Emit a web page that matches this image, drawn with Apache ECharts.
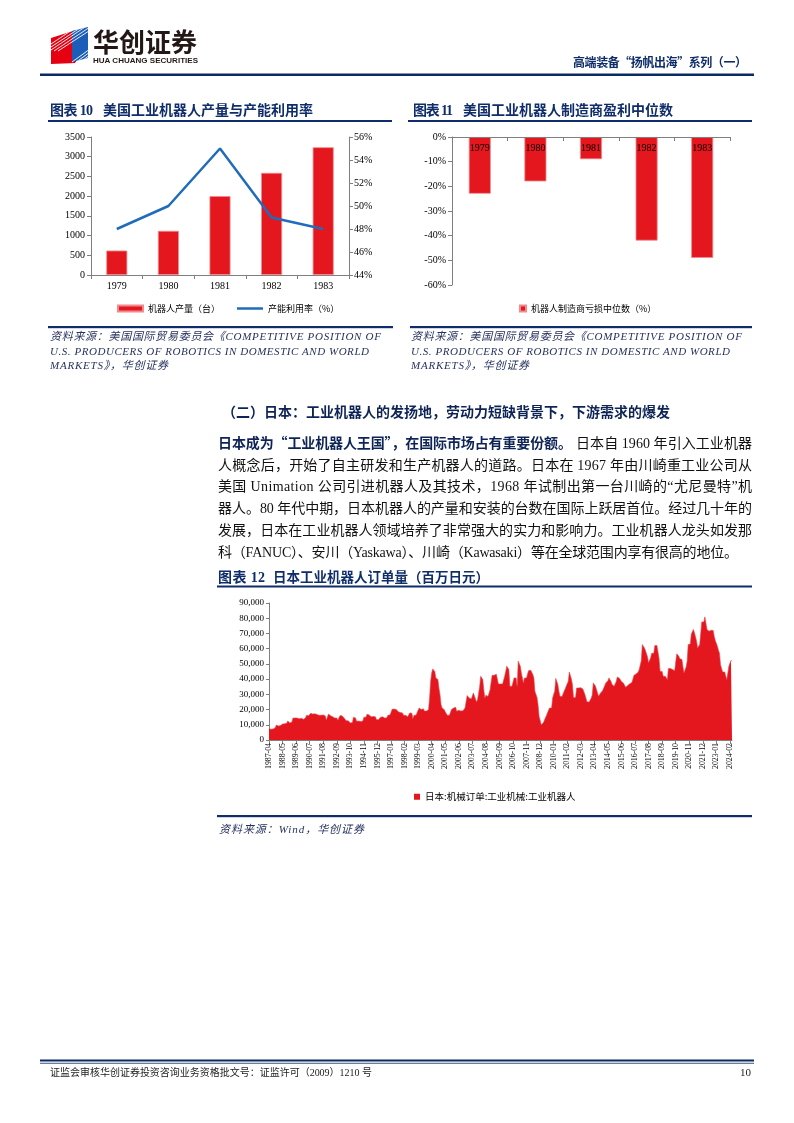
<!DOCTYPE html>
<html>
<head>
<meta charset="utf-8">
<script src="https://cdn.jsdelivr.net/npm/echarts@6/dist/echarts.min.js"></script>
<style>
html,body{margin:0;padding:0;background:#fff;}
#page{position:relative;width:794px;height:1123px;overflow:hidden;background:#fff;}
#chart{position:absolute;left:0;top:0;width:794px;height:1123px;}
#overlay{position:absolute;left:0;top:0;pointer-events:none;}
#overlay text{white-space:pre;}
</style>
</head>
<body>
<div id="page">
<div id="chart"></div>
<svg id="overlay" width="794" height="1123" xmlns="http://www.w3.org/2000/svg">
  <defs>
    <clipPath id="logoClip">
      <polygon points="51,38 76,30 76,63 51,64"/>
      <polygon points="72,31 88,27 88,58 72,62"/>
    </clipPath>
  </defs>
  <!-- logo -->
  <polygon points="51,38 76,30 76,63 51,64" fill="#E50012"/>
  <polygon points="72,31 88,27 88,58 72,62" fill="#1C5DB8"/>
  <g clip-path="url(#logoClip)" stroke="#fff" stroke-width="0.9">
    <line x1="51" y1="44" x2="75" y2="28"/>
    <line x1="51" y1="47" x2="80" y2="28"/>
    <line x1="51" y1="50" x2="85" y2="27"/>
    <line x1="54" y1="51" x2="90" y2="27"/>
    <line x1="58" y1="51" x2="92" y2="29"/>
    <line x1="72" y1="62" x2="90" y2="49"/>
    <line x1="75" y1="63" x2="90" y2="52"/>
    <line x1="79" y1="63" x2="90" y2="55"/>
    <line x1="83" y1="63" x2="90" y2="58"/>
  </g>
  <text x="93" y="52" font-size="26" font-weight="bold" fill="#231815" textLength="104" lengthAdjust="spacingAndGlyphs" font-family="Noto Sans CJK SC">华创证券</text>
  <text x="93" y="63" font-size="7.5" font-weight="bold" fill="#231815" textLength="105" lengthAdjust="spacingAndGlyphs" font-family="Liberation Sans">HUA CHUANG SECURITIES</text>
  <text x="573" y="67" font-size="12" font-weight="bold" fill="#0f2d6b" textLength="174" font-family="Noto Sans CJK SC">高端装备“扬帆出海”系列（一）</text>
  <rect x="40" y="73.5" width="714" height="2.5" fill="#0b2a62"/>

  <!-- chart 10 title -->
  <text x="50" y="115" font-size="14" font-weight="bold" fill="#0f2d6b" textLength="43" font-family="'Liberation Serif','Noto Sans CJK SC'">图表 10</text>
  <text x="103" y="115" font-size="14" font-weight="bold" fill="#0f2d6b" textLength="210" font-family="Noto Sans CJK SC">美国工业机器人产量与产能利用率</text>
  <rect x="48" y="120" width="344" height="2" fill="#0f2d6b"/>
  <!-- chart 11 title -->
  <text x="413" y="115" font-size="14" font-weight="bold" fill="#0f2d6b" textLength="40" font-family="'Liberation Serif','Noto Sans CJK SC'">图表 11</text>
  <text x="463" y="115" font-size="14" font-weight="bold" fill="#0f2d6b" textLength="210" font-family="Noto Sans CJK SC">美国工业机器人制造商盈利中位数</text>
  <rect x="408" y="120" width="344" height="2" fill="#0f2d6b"/>

  <!-- sources 10/11 -->
  <rect x="48" y="326" width="345" height="2.2" fill="#0f2d6b"/>
  <rect x="410" y="326" width="342" height="2.2" fill="#0f2d6b"/>
  <g font-size="11" font-style="italic" fill="#27335f" font-family="'Liberation Serif','Noto Sans CJK SC'">
    <text x="50" y="340" textLength="331">资料来源：美国国际贸易委员会《COMPETITIVE POSITION OF</text>
    <text x="50" y="354.5" textLength="319">U.S. PRODUCERS OF ROBOTICS IN DOMESTIC AND WORLD</text>
    <text x="50" y="369" textLength="118">MARKETS》，华创证券</text>
    <text x="411" y="340" textLength="331">资料来源：美国国际贸易委员会《COMPETITIVE POSITION OF</text>
    <text x="411" y="354.5" textLength="319">U.S. PRODUCERS OF ROBOTICS IN DOMESTIC AND WORLD</text>
    <text x="411" y="369" textLength="118">MARKETS》，华创证券</text>
  </g>

  <!-- section heading and paragraph -->
  <text x="222" y="417" font-size="14" font-weight="bold" fill="#0e2456" textLength="448" font-family="Noto Sans CJK SC">（二）日本：工业机器人的发扬地，劳动力短缺背景下，下游需求的爆发</text>
  <g font-size="14" fill="#111" font-family="'Liberation Serif','Noto Sans CJK SC'">
    <text x="218" y="448" font-weight="bold" fill="#0e2456" textLength="354" font-family="Noto Sans CJK SC">日本成为“工业机器人王国”，在国际市场占有重要份额。</text>
    <text x="576" y="448" textLength="176">日本自 1960 年引入工业机器</text>
    <text x="218" y="469.7" textLength="534">人概念后，开始了自主研发和生产机器人的道路。日本在 1967 年由川崎重工业公司从</text>
    <text x="218" y="491.4" textLength="534">美国 Unimation 公司引进机器人及其技术，1968 年试制出第一台川崎的“尤尼曼特”机</text>
    <text x="218" y="513.1" textLength="534">器人。80 年代中期，日本机器人的产量和安装的台数在国际上跃居首位。经过几十年的</text>
    <text x="218" y="534.8" textLength="534">发展，日本在工业机器人领域培养了非常强大的实力和影响力。工业机器人龙头如发那</text>
    <text x="218" y="556.5" textLength="520">科（FANUC）、安川（Yaskawa）、川崎（Kawasaki）等在全球范围内享有很高的地位。</text>
  </g>

  <!-- chart 12 title -->
  <text x="218" y="582" font-size="14" font-weight="bold" fill="#0f2d6b" textLength="47" font-family="'Liberation Serif','Noto Sans CJK SC'">图表 12</text>
  <text x="273" y="582" font-size="13.5" font-weight="bold" fill="#0f2d6b" textLength="216" font-family="Noto Sans CJK SC">日本工业机器人订单量（百万日元）</text>
  <rect x="217" y="585.5" width="535" height="2" fill="#0f2d6b"/>

  <!-- chart 12 source -->
  <rect x="217" y="815" width="535" height="2.2" fill="#0f2d6b"/>
  <text x="219" y="833" font-size="11" font-style="italic" fill="#27335f" textLength="145" font-family="'Liberation Serif','Noto Sans CJK SC'">资料来源：Wind，华创证券</text>

  <!-- footer -->
  <rect x="40" y="1059.5" width="714" height="2" fill="#0b2a62"/>
  <rect x="40" y="1062.8" width="714" height="0.8" fill="#0b2a62"/>
  <text x="50" y="1076" font-size="10" fill="#222" textLength="322" font-family="'Liberation Serif','Noto Sans CJK SC'">证监会审核华创证券投资咨询业务资格批文号：证监许可（2009）1210 号</text>
  <text x="740" y="1076" font-size="11" fill="#222" font-family="Liberation Serif">10</text>
</svg>
</div>
<script>
// ---------- data ----------
const usYears = ['1979', '1980', '1981', '1982', '1983'];
const usRobotOutput = [620, 1120, 2000, 2590, 3240];          // 机器人产量（台）
const usCapacityUtil = [48, 50, 55, 49, 48];                  // 产能利用率（%）
const usProfitMedian = [-23, -18, -9, -42, -49];              // 机器人制造商亏损中位数（%）

const jpStartYear = 1987;
const jpStartMonth = 4;
// 日本:机械订单:工业机械:工业机器人（百万日元），monthly from 1987-04
const jpOrders = [
  // 1987 (Apr-Dec)
  7500, 7200, 7100, 7200, 7300, 7500, 8000, 9800, 9600,
  // 1988
  9200, 9000, 9500, 10700, 10500, 10800, 10700, 10600, 11000, 12500, 11800, 11200,
  // 1989
  11300, 11900, 14400, 14000, 14500, 14300, 14400, 13200, 14000, 14400, 14300, 13800,
  // 1990
  13600, 13900, 14500, 16200, 16500, 16000, 17300, 17500, 17200, 17000, 17300, 17200,
  // 1991
  17000, 16800, 17700, 16200, 16000, 16300, 16700, 16500, 16800, 15800, 13000, 13200,
  // 1992
  17000, 16800, 16000, 15100, 15300, 14800, 14400, 14200, 14500, 12900, 13500, 16000,
  // 1993
  15800, 16000, 14900, 14400, 14600, 12700, 12900, 12600, 12500, 11200, 11000, 11500,
  // 1994
  15000, 15200, 14500, 12300, 12100, 12400, 12300, 12200, 12300, 12400, 15000, 15300,
  // 1995
  15000, 16900, 17000, 16500, 16900, 15300, 15000, 15500, 15800, 15300, 13400, 13600,
  // 1996
  13300, 12700, 15000, 14800, 15200, 15000, 14400, 14300, 14600, 16200, 16000, 16500,
  // 1997
  18000, 20200, 20000, 20300, 19800, 20100, 18900, 18600, 17800, 18000, 17500, 17800,
  // 1998
  16200, 16500, 16200, 15100, 15300, 15000, 17800, 18000, 17600, 14000, 16200, 16000,
  // 1999
  16300, 16200, 19500, 21000, 20500, 20000, 21000, 20500, 19000, 18900, 19000, 18800,
  // 2000
  19950, 28000, 38600, 44000, 46700, 46500, 45000, 40800, 40500, 39700, 34000, 29800,
  // 2001
  23250, 21000, 20000, 20000, 18500, 17760, 16200, 16000, 16300, 16200, 20000, 20500,
  // 2002
  21000, 21700, 21500, 18900, 19300, 19500, 18900, 19000, 18900, 19200, 20000, 21000,
  // 2003
  22100, 29200, 29000, 27600, 27600, 27000, 27200, 30900, 30500, 27000, 25000, 26500,
  // 2004
  27600, 35000, 41900, 41500, 39700, 33000, 27600, 29400, 29000, 28500, 27600, 33000,
  // 2005
  38000, 42500, 42300, 42500, 43400, 43200, 40000, 36800, 37000, 36800, 36900, 36800,
  // 2006
  37500, 41900, 45000, 48500, 48300, 46300, 35300, 35500, 35300, 38000, 40800, 40500,
  // 2007
  40800, 35300, 51800, 51500, 48500, 44000, 40800, 37500, 40800, 41000, 40800, 43500,
  // 2008
  45600, 45500, 45800, 45600, 43000, 40800, 32000, 31800, 28000, 23250, 15570, 13000,
  // 2009
  10100, 10100, 11200, 12800, 14500, 16000, 17800, 19500, 21000, 21200, 21000, 27600,
  // 2010
  30000, 32000, 40400, 40000, 36400, 32000, 28700, 28800, 28500, 28300, 32000, 33500,
  // 2011
  35300, 37000, 38600, 44700, 44500, 40000, 36400, 28000, 28200, 28000, 34200, 34500,
  // 2012
  34200, 34600, 34400, 34200, 33500, 33000, 29800, 29500, 25000, 25500, 25000, 25300,
  // 2013
  27500, 29800, 37500, 37300, 35500, 34200, 31000, 28700, 29500, 30900, 31000, 32500,
  // 2014
  34200, 35500, 37500, 37300, 39000, 40800, 40600, 38500, 36400, 35500, 35300, 37000,
  // 2015
  38400, 41400, 41200, 40500, 39700, 38500, 37500, 37300, 36000, 34600, 34800, 35800,
  // 2016
  36400, 37000, 37500, 37800, 40000, 42500, 42300, 43400, 43200, 44500, 46300, 46000,
  // 2017
  52000, 62700, 62500, 60500, 58800, 58500, 54500, 50700, 50500, 54000, 57000, 57200,
  // 2018
  57000, 62000, 62300, 62000, 58000, 53900, 45200, 45500, 45000, 41900, 42000, 41800,
  // 2019
  40500, 39700, 47000, 47300, 47000, 46500, 46300, 46000, 45500, 44700, 56600, 56400,
  // 2020
  55000, 53300, 53000, 52900, 48000, 44100, 44000, 48000, 51800, 62700, 62500, 63000,
  // 2021
  69700, 69500, 72600, 70500, 69300, 65000, 60500, 60300, 62700, 70000, 77600, 77800,
  // 2022
  77600, 80900, 80700, 72600, 72000, 71500, 71300, 72100, 72300, 72000, 68000, 65300,
  // 2023
  65500, 61600, 59000, 57000, 49500, 47000, 44700, 44500, 44700, 42000, 39700, 44000,
  // 2024 (Jan-Apr)
  48500, 48700, 52200, 52000
];
const jpDates = jpOrders.map(function (_, k) {
  const m = jpStartMonth - 1 + k;
  const y = jpStartYear + Math.floor(m / 12);
  const mm = (m % 12) + 1;
  return y + '-' + (mm < 10 ? '0' + mm : '' + mm);
});

// ---------- styles ----------
const FF = '"Liberation Serif","Noto Sans CJK SC",serif';
const CJK = '"Noto Sans CJK SC","Liberation Serif",sans-serif';
const RED = '#E4161E';
const BLUE = '#1F6CBB';
const GRAY = '#7f7f7f';
const lbl = function (size, extra) {
  return Object.assign({ fontSize: size, color: '#000', fontFamily: FF }, extra || {});
};
const axLine = { show: true, onZero: false, lineStyle: { color: GRAY, width: 1 } };
const axTick = function (len, extra) {
  return Object.assign({ show: true, length: len, lineStyle: { color: GRAY, width: 1 } }, extra || {});
};
const plain = function (v) { return String(v); };

const chart = echarts.init(document.getElementById('chart'), null, { renderer: 'canvas' });
chart.setOption({
  animation: false,
  backgroundColor: 'transparent',
  grid: [
    { left: 91, top: 137, width: 258, height: 138 },
    { left: 452, top: 137, width: 278, height: 148 },
    { left: 269, top: 603, width: 463, height: 137 }
  ],
  legend: [
    {
      left: 112, top: 299, itemWidth: 25, itemHeight: 6,
      data: [{ name: '机器人产量（台）', icon: 'rect' }],
      textStyle: { fontSize: 9, color: '#000', fontFamily: CJK }
    },
    {
      left: 232, top: 299, itemWidth: 26, itemHeight: 2.5,
      data: [{ name: '产能利用率（%）', icon: 'rect' }],
      textStyle: { fontSize: 9, color: '#000', fontFamily: CJK }
    },
    {
      left: 514, top: 299, itemWidth: 6, itemHeight: 6, itemGap: 10,
      data: [{ name: '机器人制造商亏损中位数（%）', icon: 'rect' }],
      textStyle: { fontSize: 9, color: '#000', fontFamily: CJK }
    },
    {
      left: 409, top: 787, itemWidth: 6, itemHeight: 6,
      data: [{ name: '日本:机械订单:工业机械:工业机器人', icon: 'rect' }],
      textStyle: { fontSize: 9.5, color: '#000', fontFamily: CJK }
    }
  ],
  xAxis: [
    {
      gridIndex: 0, type: 'category', data: usYears,
      axisLine: axLine, axisTick: axTick(4),
      axisLabel: lbl(10, { margin: 6 })
    },
    {
      gridIndex: 1, type: 'category', data: usYears, z: 10, position: 'top',
      axisLine: axLine,
      axisTick: axTick(4, { inside: true }),
      axisLabel: lbl(10, { margin: 6, inside: true })
    },
    {
      gridIndex: 2, type: 'category', data: jpDates, boundaryGap: false,
      axisLine: axLine, axisTick: axTick(4, { interval: 12 }),
      axisLabel: lbl(7.8, { interval: 12, rotate: 90, margin: 3 })
    }
  ],
  yAxis: [
    {
      gridIndex: 0, type: 'value', min: 0, max: 3500, interval: 500,
      axisLine: axLine, axisTick: axTick(4), splitLine: { show: false },
      axisLabel: lbl(10, { margin: 6, formatter: plain })
    },
    {
      gridIndex: 0, type: 'value', position: 'right', min: 44, max: 56, interval: 2,
      axisLine: axLine, axisTick: axTick(4), splitLine: { show: false },
      axisLabel: lbl(10, { margin: 5, formatter: '{value}%' })
    },
    {
      gridIndex: 1, type: 'value', min: -60, max: 0, interval: 10,
      axisLine: axLine, axisTick: axTick(4), splitLine: { show: false },
      axisLabel: lbl(10, { margin: 6, formatter: '{value}%' })
    },
    {
      gridIndex: 2, type: 'value', min: 0, max: 90000, interval: 10000,
      axisLine: axLine, axisTick: axTick(3), splitLine: { show: false },
      axisLabel: lbl(9, { margin: 5, formatter: function (v) { return v.toLocaleString('en-US'); } })
    }
  ],
  series: [
    {
      name: '机器人产量（台）', type: 'bar', xAxisIndex: 0, yAxisIndex: 0,
      data: usRobotOutput, barWidth: 21,
      itemStyle: { color: RED, borderColor: '#ef8a8e', borderWidth: 0.8 }
    },
    {
      name: '产能利用率（%）', type: 'line', xAxisIndex: 0, yAxisIndex: 1,
      data: usCapacityUtil, symbol: 'none', z: 5,
      itemStyle: { color: BLUE },
      lineStyle: { color: BLUE, width: 2.5 }
    },
    {
      name: '机器人制造商亏损中位数（%）', type: 'bar', xAxisIndex: 1, yAxisIndex: 2,
      data: usProfitMedian, barWidth: 22,
      itemStyle: { color: RED, borderColor: '#ef8a8e', borderWidth: 0.8 }
    },
    {
      name: '日本:机械订单:工业机械:工业机器人', type: 'line', xAxisIndex: 2, yAxisIndex: 3,
      data: jpOrders, symbol: 'none',
      itemStyle: { color: RED },
      lineStyle: { color: '#e8464c', width: 0.6 },
      areaStyle: { color: RED, opacity: 1 }
    }
  ]
});
</script>
</body>
</html>
